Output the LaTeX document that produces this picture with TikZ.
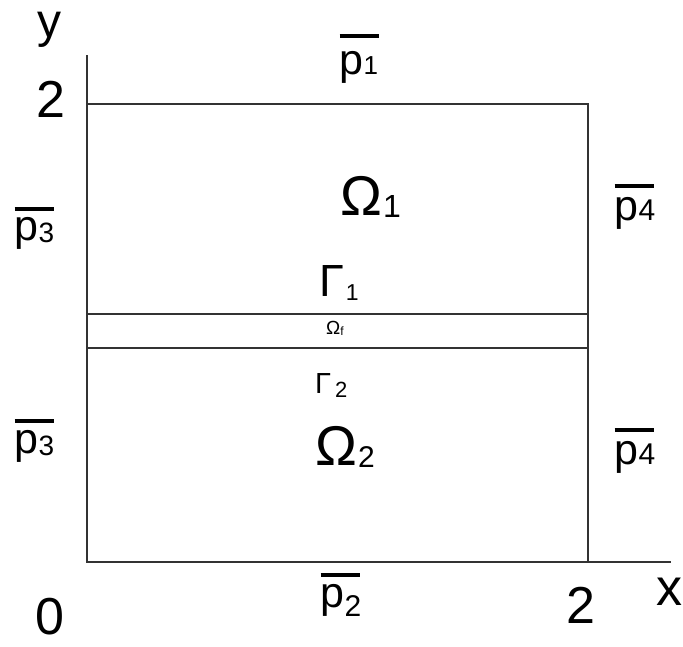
\documentclass[tikz,border=0pt]{standalone}
\usepackage{fontspec}
\setmainfont{Liberation Sans}
\newcommand{\fs}[1]{\fontsize{#1}{#1}\selectfont}
% #1 bar raise, #2 subscript, #3 subscript size, #4 subscript lowering
\newcommand{\pbar}[4]{\fs{43}\rlap{\raisebox{#1}{\rule{0.92em}{0.1em}}}p\raisebox{-#4}{\fs{#3}#2}}
\newcommand{\sym}[6]{\fs{#2}#1\raisebox{-#6}{\fs{#4}\hspace{#5}#3}}
\begin{document}
\begin{tikzpicture}[x=1pt,y=-1pt,
  line/.style={line width=1.3pt,draw=black!80},
  lbl/.style={inner sep=0pt,anchor=base west,text=black}]
\useasboundingbox (0,0) rectangle (683,646);
\coordinate (ytop) at (87,55);
\coordinate (o) at (87,562);
\coordinate (xend) at (671,562);
\coordinate (tl) at (87,104);
\coordinate (tr) at (588,104);
\coordinate (br) at (588,562);
\coordinate (i1l) at (87,314);
\coordinate (i1r) at (588,314);
\coordinate (i2l) at (87,348);
\coordinate (i2r) at (588,348);
\draw[line] (ytop) -- (o) -- (xend);
\draw[line] (tl) -- (tr) -- (br);
\draw[line] (i1l) -- (i1r);
\draw[line] (i2l) -- (i2r);
% axis labels
\node[lbl] (ylab) at (37,37) {\fs{48}y};
\node[lbl] (two) at (36,117) {\fs{52}2};
\node[lbl] (zero) at (35,634) {\fs{52}0};
\node[lbl] (twox) at (566,623) {\fs{52}2};
\node[lbl] (xlab) at (656,605) {\fs{52}x};
% boundary pressures
\node[lbl] (p1) at (339.5,74) {\pbar{36pt}{1}{26}{0pt}};
\node[lbl] (p3a) at (14.5,240) {\pbar{29pt}{3}{28}{2pt}};
\node[lbl] (p3b) at (14.5,453) {\pbar{30pt}{3}{28}{2pt}};
\node[lbl] (p4a) at (614.5,220) {\pbar{32pt}{4}{30}{0pt}};
\node[lbl] (p4b) at (614.5,464) {\pbar{32pt}{4}{30}{0pt}};
\node[lbl] (p2) at (320.5,607) {\pbar{30pt}{2}{30}{9pt}};
% domains
\node[lbl] (om1) at (340,215) {\sym{Ω}{56}{1}{32}{1pt}{2pt}};
\node[lbl] (om2) at (315,465) {\sym{Ω}{56}{2}{30}{1pt}{2pt}};
\node[lbl] (g1) at (319,296) {\sym{Γ}{45}{1}{23}{2pt}{4pt}};
\node[lbl] (g2) at (315,393) {\sym{Γ}{29}{2}{22}{4pt}{4pt}};
\node[lbl] (omf) at (326,334) {\sym{Ω}{19}{f}{12}{0pt}{1pt}};
\end{tikzpicture}
\end{document}
